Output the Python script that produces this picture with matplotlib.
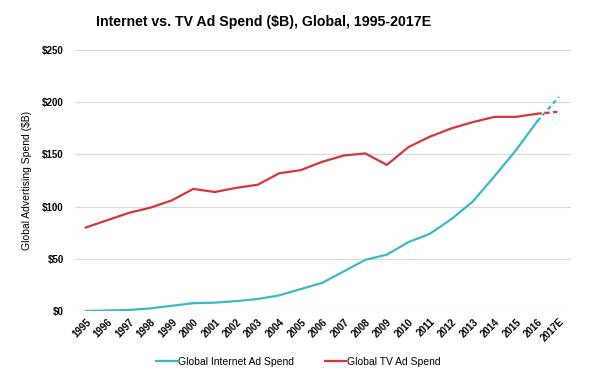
import matplotlib.pyplot as plt
from matplotlib.lines import Line2D

# Years and spend values ($B)
years = ['1995', '1996', '1997', '1998', '1999', '2000', '2001', '2002', '2003',
         '2004', '2005', '2006', '2007', '2008', '2009', '2010', '2011', '2012',
         '2013', '2014', '2015', '2016', '2017E']
internet = [0, 0.5, 1, 2.5, 5, 7.5, 8, 9.5, 11.5, 15, 21, 27, 38, 49, 54,
            66, 74, 88, 105, 129, 154, 182, 205]
tv = [80, 87, 94, 99, 106, 117, 114, 118, 121, 132, 135, 143, 149, 151, 140,
      157, 167, 175, 181, 186, 186, 189, 191]
yticks = [0, 50, 100, 150, 200, 250]

teal = '#3bb7c6'
red = '#d9343a'

plt.rcParams['font.family'] = ['Liberation Sans', 'DejaVu Sans']

fig = plt.figure(figsize=(5.97, 3.71), dpi=100)
ax = fig.add_axes([0.1256, 0.1617, 0.8304, 0.7033])

x = list(range(len(years)))
# solid up to 2016, dashed for the 2017 estimate
ax.plot(x[:-1], internet[:-1], color=teal, lw=1.6)
ax.plot(x[-2:], internet[-2:], color=teal, lw=1.6, ls=(0, (2, 1.5)))
ax.plot(x[:-1], tv[:-1], color=red, lw=1.6)
ax.plot(x[-2:], tv[-2:], color=red, lw=1.6, ls=(0, (2, 1.5)))

ax.set_xlim(-0.5, 22.55)
ax.set_ylim(0, 250)
ax.set_yticks(yticks)
ax.set_yticklabels(['$%d' % v for v in yticks], fontsize=7, fontweight='bold')
ax.set_xticks(x)
ax.set_xticklabels(years, rotation=45, ha='right', rotation_mode='anchor',
                   fontsize=7, fontweight='bold')
ax.tick_params(length=0, pad=8)
ax.tick_params(axis='x', pad=4)
ax.grid(axis='y', color='#d9d9d9', lw=0.9)
ax.set_axisbelow(True)
for s in ax.spines.values():
    s.set_visible(False)

ax.set_ylabel('Global Advertising Spend ($B)', fontsize=7.5, labelpad=7)

fig.suptitle('Internet vs. TV Ad Spend ($B), Global, 1995-2017E',
             fontsize=10.2, fontweight='bold', x=0.442, y=0.96)

handles = [Line2D([], [], color=teal, lw=1.6),
           Line2D([], [], color=red, lw=1.6)]
fig.legend(handles, ['Global Internet Ad Spend', 'Global TV Ad Spend'],
           loc='center', bbox_to_anchor=(0.5, 0.025), ncol=2, frameon=False,
           fontsize=7.5, handlelength=2.0, handletextpad=0.1, columnspacing=3)

fig.savefig('out.png', dpi=100)
